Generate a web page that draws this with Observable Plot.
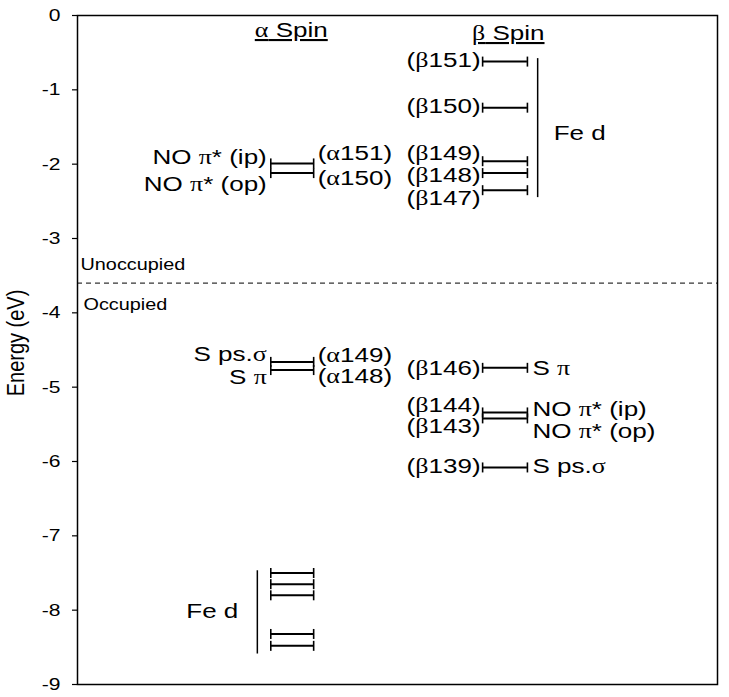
<!DOCTYPE html>
<html><head><meta charset="utf-8">
<script src="https://cdn.jsdelivr.net/npm/d3@7"></script>
<script src="https://cdn.jsdelivr.net/npm/@observablehq/plot@0.6"></script>
<style>body{margin:0;background:#fff}</style>
</head><body><div id="chart"></div>
<script>
// ---- Data (energies in eV) ----
const alphaLevels = [-1.99, -2.12, -4.66, -4.77, -7.50, -7.65, -7.80, -8.32, -8.48];
const betaLevels = [-0.62, -1.24, -1.96, -2.12, -2.35, -4.74, -5.34, -5.42, -6.08];
const fermiLevel = -3.60;
const yTicks = [0, -1, -2, -3, -4, -5, -6, -7, -8, -9];

const alphaLeftText = ["NO π* (ip)", "NO π* (op)", "S ps.σ", "S π"];
const alphaLeftE = [-1.91, -2.27, -4.56, -4.87];
const alphaRightText = ["(α151)", "(α150)", "(α149)", "(α148)"];
const alphaRightE = [-1.85, -2.19, -4.57, -4.85];
const betaLeftText = ["(β151)", "(β150)", "(β149)", "(β148)", "(β147)", "(β146)", "(β144)", "(β143)", "(β139)"];
const betaLeftE = [-0.60, -1.22, -1.85, -2.15, -2.46, -4.74, -5.24, -5.52, -6.07];
const betaRightText = ["S π", "NO π* (ip)", "NO π* (op)", "S ps.σ"];
const betaRightE = [-4.74, -5.30, -5.59, -6.07];

const feDSpin = ["α", "β"];
const feDTop = [-7.47, -0.58];
const feDBottom = [-8.59, -2.45];
const feDLabelE = [-8.02, -1.59];

const headers = ["α Spin", "β Spin"];

// ---- Layout columns (x is an arbitrary 0–10 layout axis) ----
const col = {α: {x1: 3.02, x2: 3.69, bracket: 2.81, head: 3.34}, β: {x1: 6.33, x2: 7.03, bracket: 7.19, head: 6.73}};

const levels = [
  ...alphaLevels.map(e => ({e, x1: col.α.x1, x2: col.α.x2})),
  ...betaLevels.map(e => ({e, x1: col.β.x1, x2: col.β.x2}))
];
const zipL = (t, e) => t.map((s, i) => ({text: s, e: e[i]}));
const brackets = feDSpin.map((s, i) => ({s, x: col[s].bracket, top: feDTop[i], bottom: feDBottom[i], e: feDLabelE[i]}));

const vbar = {draw(ctx, size) { const h = Math.sqrt(size / Math.PI); ctx.moveTo(0, -h); ctx.lineTo(0, h); }};
const FS = 21;

const chart = Plot.plot({
  width: 729, height: 697,
  marginLeft: 77, marginRight: 12, marginTop: 15, marginBottom: 13,
  style: {fontFamily: "'Liberation Sans', Arial, sans-serif", background: "white", color: "black"},
  x: {domain: [0, 10], axis: null},
  y: {domain: [-9, 0], axis: null},
  marks: [
    Plot.frame({stroke: "black", strokeWidth: 1.5}),
    Plot.axisY({ticks: yTicks, tickSize: 5, tickPadding: 12, fontSize: 17, label: null, tickFormat: d => `${d}`, strokeWidth: 1.2}),
    Plot.text(["Energy (eV)"], {frameAnchor: "left", text: d => d, rotate: -90, textAnchor: "middle", lineAnchor: "middle", dx: -61, dy: -7, fontSize: 20}),
    Plot.ruleY([fermiLevel], {strokeDasharray: "5,4", strokeWidth: 1}),
    Plot.text(["Unoccupied"], {frameAnchor: "left", y: () => fermiLevel, text: d => d, textAnchor: "start", dx: 3, dy: -18, fontSize: 16}),
    Plot.text(["Occupied"], {frameAnchor: "left", y: () => fermiLevel, text: d => d, textAnchor: "start", dx: 6, dy: 22, fontSize: 16}),
    Plot.ruleY(levels, {y: "e", x1: "x1", x2: "x2", strokeWidth: 2, stroke: "black"}),
    Plot.dot(levels, {x: "x1", y: "e", symbol: vbar, r: 5, stroke: "black", fill: "none", strokeWidth: 1.6}),
    Plot.dot(levels, {x: "x2", y: "e", symbol: vbar, r: 5, stroke: "black", fill: "none", strokeWidth: 1.6}),
    Plot.ruleX(brackets, {x: "x", y1: "top", y2: "bottom", strokeWidth: 1.5, stroke: "black"}),
    Plot.text(brackets.filter(d => d.s === "α"), {x: "x", y: "e", text: () => "Fe d", textAnchor: "end", dx: -19, fontSize: FS}),
    Plot.text(brackets.filter(d => d.s === "β"), {x: "x", y: "e", text: () => "Fe d", textAnchor: "start", dx: 16, fontSize: FS}),
    Plot.text(zipL(alphaLeftText, alphaLeftE), {x: () => col.α.x1, y: "e", text: "text", textAnchor: "end", dx: -4, fontSize: FS}),
    Plot.text(zipL(alphaRightText, alphaRightE), {x: () => col.α.x2, y: "e", text: "text", textAnchor: "start", dx: 4, fontSize: FS}),
    Plot.text(zipL(betaLeftText, betaLeftE), {x: () => col.β.x1, y: "e", text: "text", textAnchor: "end", dx: -2, fontSize: FS}),
    Plot.text(zipL(betaRightText, betaRightE), {x: () => col.β.x2, y: "e", text: "text", textAnchor: "start", dx: 5, fontSize: FS}),
    Plot.text(headers.slice(0, 1), {frameAnchor: "top", lineAnchor: "middle", x: () => col.α.head, text: d => d, dy: 15, fontSize: FS}),
    Plot.text(headers.slice(1), {frameAnchor: "top", lineAnchor: "middle", x: () => col.β.head, text: d => d, dy: 18, fontSize: FS})
  ]
});
document.getElementById("chart").appendChild(chart);

// Greek letters in a serif (Symbol-like) face
const greek = /[α-ωΑ-Ω]/;
chart.querySelectorAll("text").forEach(t => {
  if (t.children.length || !greek.test(t.textContent)) return;
  const s = t.textContent; t.textContent = "";
  const runs = s.match(/[α-ωΑ-Ω]+|[^α-ωΑ-Ω]+/g);
  runs.forEach(r => {
    const ts = document.createElementNS("http://www.w3.org/2000/svg", "tspan");
    ts.textContent = r;
    if (greek.test(r)) ts.setAttribute("font-family", "'Liberation Serif', 'Times New Roman', serif");
    t.appendChild(ts);
  });
});
// underline headers
chart.querySelectorAll("text").forEach(t => {
  if (/Spin/.test(t.textContent)) t.style.textDecoration = "underline";
});
// horizontal stretch of text (as in the original figure)
const K = 1.24;
chart.querySelectorAll("text").forEach(t => {
  const tr = t.getAttribute("transform") || "";
  if (tr.includes("rotate")) {
    t.setAttribute("transform", `${tr} scale(1,${K})`);
    return;
  }
  const xa = t.getAttribute("x");
  let x = 0;
  if (xa !== null && !isNaN(+xa)) { x = +xa; t.removeAttribute("x"); }
  t.setAttribute("transform", `${tr} translate(${x},0) scale(${K},1)`);
});
</script>
</body></html>
